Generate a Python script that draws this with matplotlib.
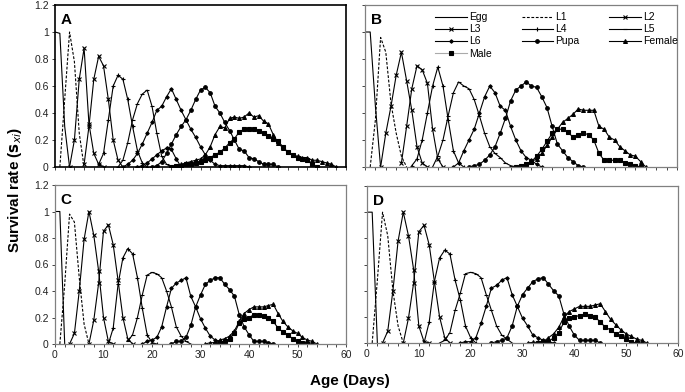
import numpy as np
import matplotlib
matplotlib.use("Agg")
import matplotlib.pyplot as plt
from matplotlib.lines import Line2D
from matplotlib.ticker import MultipleLocator

plt.rcParams["font.family"] = ["Liberation Sans", "DejaVu Sans"]

stages = ["Egg", "L1", "L2", "L3", "L4", "L5", "L6", "Pupa", "Female", "Male"]

## PANEL A (start day, daily survival values) ##
a_egg = (0, [1.0, 0.99, 0.3, 0.0])
a_l1 = (1, [0.0, 0.5, 1.0, 0.78, 0.25, 0.0])
a_l2 = (3, [0.0, 0.2, 0.65, 0.88, 0.32, 0.1, 0.02, 0.0])
a_l3 = (6, [0.02, 0.3, 0.65, 0.82, 0.75, 0.5, 0.2, 0.05, 0.0])
a_l4 = (9, [0.02, 0.1, 0.35, 0.6, 0.68, 0.65, 0.5, 0.3, 0.12, 0.03, 0.0])
a_l5 = (13, [0.0, 0.05, 0.18, 0.35, 0.47, 0.54, 0.57, 0.45, 0.25, 0.08, 0.02, 0.0])
a_l6 = (14, [0.0, 0.02, 0.05, 0.1, 0.17, 0.25, 0.33, 0.42, 0.45, 0.52, 0.58, 0.5,
             0.42, 0.35, 0.28, 0.22, 0.15, 0.09, 0.05, 0.02, 0.01, 0.01, 0.01,
             0.01, 0.01, 0.01, 0.0])
a_l6b = (17, [0.0, 0.01, 0.03, 0.06, 0.09, 0.12, 0.14, 0.13, 0.06, 0.0])
a_pupa = (20, [0.0, 0.01, 0.04, 0.1, 0.17, 0.24, 0.3, 0.35, 0.42, 0.5, 0.57, 0.59,
               0.55, 0.45, 0.4, 0.33, 0.27, 0.2, 0.13, 0.12, 0.07, 0.06, 0.04,
               0.02, 0.02, 0.02, 0.0])
a_female = (24, [0.0, 0.01, 0.02, 0.03, 0.04, 0.05, 0.06, 0.09, 0.15, 0.24, 0.3,
                 0.29, 0.36, 0.37, 0.36, 0.37, 0.4, 0.37, 0.38, 0.34, 0.32, 0.24,
                 0.18, 0.14, 0.11, 0.09, 0.08, 0.07, 0.07, 0.05, 0.05, 0.04, 0.03,
                 0.02, 0.0])
a_male = (24, [0.0, 0.01, 0.01, 0.02, 0.02, 0.03, 0.04, 0.05, 0.07, 0.09, 0.11,
               0.14, 0.18, 0.21, 0.26, 0.28, 0.28, 0.28, 0.27, 0.25, 0.23, 0.21,
               0.19, 0.15, 0.11, 0.09, 0.07, 0.06, 0.05, 0.02, 0.0])

## PANEL B ##
b_egg = (0, [1.0, 1.0, 0.45, 0.0])
b_l1 = (1, [0.0, 0.35, 0.96, 0.85, 0.47, 0.25, 0.08, 0.0])
b_l2 = (3, [0.0, 0.25, 0.45, 0.68, 0.85, 0.64, 0.42, 0.15, 0.03, 0.0])
b_l3 = (7, [0.03, 0.3, 0.58, 0.75, 0.72, 0.62, 0.28, 0.06, 0.0])
b_l4 = (9, [0.01, 0.06, 0.2, 0.4, 0.6, 0.74, 0.6, 0.35, 0.12, 0.03, 0.0])
b_l5 = (13, [0.0, 0.08, 0.2, 0.38, 0.55, 0.63, 0.6, 0.58, 0.5, 0.38, 0.25, 0.15,
             0.1, 0.07, 0.03, 0.01, 0.0])
b_l6 = (17, [0.0, 0.03, 0.12, 0.2, 0.28, 0.4, 0.52, 0.6, 0.55, 0.45, 0.42, 0.3,
             0.2, 0.12, 0.07, 0.05, 0.02, 0.0])
b_pupa = (20, [0.0, 0.01, 0.02, 0.05, 0.09, 0.15, 0.25, 0.36, 0.49, 0.57, 0.6,
               0.63, 0.6, 0.59, 0.52, 0.44, 0.3, 0.17, 0.12, 0.07, 0.04, 0.01, 0.0])
b_female = (29, [0.0, 0.01, 0.02, 0.04, 0.06, 0.1, 0.16, 0.22, 0.28, 0.33, 0.36,
                 0.39, 0.43, 0.42, 0.42, 0.42, 0.3, 0.28, 0.22, 0.2, 0.15, 0.12,
                 0.09, 0.08, 0.04, 0.0])
b_male = (29, [0.0, 0.01, 0.02, 0.04, 0.08, 0.13, 0.19, 0.25, 0.28, 0.28, 0.26,
               0.22, 0.24, 0.25, 0.24, 0.2, 0.1, 0.05, 0.05, 0.05, 0.05, 0.03,
               0.02, 0.01, 0.0])

## PANEL C ##
c_egg = (0, [1.0, 1.0, 0.0])
c_l1 = (1, [0.0, 0.45, 0.98, 0.92, 0.5, 0.15, 0.0])
c_l2 = (3, [0.0, 0.08, 0.4, 0.79, 1.0, 0.82, 0.55, 0.2, 0.02, 0.0])
c_l3 = (7, [0.0, 0.18, 0.46, 0.85, 0.9, 0.75, 0.48, 0.2, 0.04, 0.0])
c_l4 = (11, [0.0, 0.12, 0.45, 0.65, 0.72, 0.68, 0.5, 0.27, 0.07, 0.01, 0.0])
c_l5 = (15, [0.02, 0.07, 0.2, 0.37, 0.52, 0.54, 0.53, 0.5, 0.4, 0.28, 0.13, 0.06,
             0.02, 0.0])
c_l6 = (18, [0.0, 0.02, 0.03, 0.05, 0.13, 0.28, 0.42, 0.46, 0.48, 0.5, 0.36, 0.28,
             0.19, 0.12, 0.06, 0.03, 0.02, 0.0])
c_pupa = (24, [0.0, 0.02, 0.02, 0.05, 0.14, 0.28, 0.37, 0.45, 0.48, 0.5, 0.5,
               0.45, 0.41, 0.36, 0.22, 0.13, 0.07, 0.02, 0.02, 0.02, 0.01, 0.0])
c_female = (31, [0.0, 0.01, 0.01, 0.03, 0.04, 0.06, 0.1, 0.17, 0.23, 0.26, 0.28,
                 0.28, 0.28, 0.29, 0.3, 0.23, 0.17, 0.13, 0.1, 0.08, 0.05, 0.03,
                 0.02, 0.0])
c_male = (33, [0.0, 0.005, 0.02, 0.04, 0.08, 0.16, 0.19, 0.2, 0.22, 0.22, 0.21,
               0.2, 0.17, 0.12, 0.09, 0.07, 0.04, 0.02, 0.01, 0.0])

## PANEL D ##
d_egg = (0, [1.0, 1.0, 0.0])
d_l1 = (1, [0.0, 0.48, 1.0, 0.82, 0.4, 0.13, 0.0])
d_l2 = (3, [0.0, 0.09, 0.4, 0.78, 1.0, 0.82, 0.56, 0.13, 0.01, 0.0])
d_l3 = (7, [0.0, 0.19, 0.46, 0.85, 0.9, 0.75, 0.47, 0.2, 0.04, 0.0])
d_l4 = (11, [0.0, 0.16, 0.47, 0.65, 0.71, 0.68, 0.48, 0.33, 0.13, 0.04, 0.0])
d_l5 = (14, [0.0, 0.02, 0.08, 0.25, 0.38, 0.53, 0.54, 0.53, 0.5, 0.37, 0.25, 0.13,
             0.06, 0.03, 0.0])
d_l6 = (18, [0.0, 0.01, 0.01, 0.04, 0.15, 0.28, 0.42, 0.44, 0.48, 0.5, 0.37, 0.28,
             0.19, 0.13, 0.06, 0.04, 0.02, 0.01, 0.0])
d_pupa = (24, [0.0, 0.01, 0.02, 0.04, 0.13, 0.28, 0.37, 0.42, 0.47, 0.49, 0.5,
               0.45, 0.4, 0.36, 0.22, 0.13, 0.06, 0.02, 0.02, 0.02, 0.02, 0.0])
d_female = (31, [0.0, 0.005, 0.005, 0.01, 0.04, 0.07, 0.12, 0.2, 0.24, 0.26, 0.28,
                 0.28, 0.28, 0.29, 0.3, 0.24, 0.18, 0.14, 0.1, 0.07, 0.05, 0.03,
                 0.02, 0.0])
d_male = (33, [0.0, 0.005, 0.01, 0.04, 0.08, 0.16, 0.19, 0.2, 0.21, 0.22, 0.21,
               0.2, 0.16, 0.12, 0.1, 0.07, 0.05, 0.03, 0.01, 0.0])

panels = {
    "A": [a_egg, a_l1, a_l2, a_l3, a_l4, a_l5, a_l6, a_pupa, a_female, a_male],
    "B": [b_egg, b_l1, b_l2, b_l3, b_l4, b_l5, b_l6, b_pupa, b_female, b_male],
    "C": [c_egg, c_l1, c_l2, c_l3, c_l4, c_l5, c_l6, c_pupa, c_female, c_male],
    "D": [d_egg, d_l1, d_l2, d_l3, d_l4, d_l5, d_l6, d_pupa, d_female, d_male],
}

# line style per stage: (linestyle, marker, markersize)
styles = {
    "Egg": ("-", None, 0),
    "L1": ((0, (2.5, 1.5)), None, 0),
    "L2": ("-", "x", 3),
    "L3": ("-", "x", 3),
    "L4": ("-", "+", 3.5),
    "L5": ("-", "_", 3.5),
    "L6": ("-", "D", 1.8),
    "Pupa": ("-", "o", 2.6),
    "Female": ("-", "^", 2.8),
    "Male": ("-", "s", 2.6),
}

W, H = 685, 392
fig = plt.figure(figsize=(W / 100, H / 100), dpi=100)

boxes = {
    "A": (55, 5, 346, 167),
    "B": (365, 5, 677, 167),
    "C": (55, 185, 346, 344),
    "D": (367, 186, 678, 343),
}


def draw(ax, series, extra=None):
    for name, (start, vals) in zip(stages, series):
        ls, mk, ms = styles[name]
        x = np.arange(start, start + len(vals))
        ax.plot(x, vals, color="black", linestyle=ls, linewidth=0.8,
                marker=mk, markersize=ms, markeredgewidth=0.8)
    if extra is not None:
        start, vals = extra
        x = np.arange(start, start + len(vals))
        ax.plot(x, vals, color="black", linewidth=0.8, marker="D",
                markersize=1.8)


axes = {}
for key, (l, t, r, b) in boxes.items():
    ax = fig.add_axes([l / W, 1 - b / H, (r - l) / W, (b - t) / H])
    axes[key] = ax
    draw(ax, panels[key], a_l6b if key == "A" else None)
    ax.set_xlim(0, 60)
    ax.set_ylim(0, 1.2)
    ax.xaxis.set_major_locator(MultipleLocator(10))
    ax.xaxis.set_minor_locator(MultipleLocator(2))
    ax.set_yticks(np.arange(0, 1.21, 0.2))
    ax.set_yticklabels(["0", "0.2", "0.4", "0.6", "0.8", "1", "1.2"])
    ax.tick_params(which="both", direction="out", length=2.5, width=0.7,
                   labelsize=7.5, colors="#444444", labelcolor="#222222", pad=2)
    if key in ("A", "B"):
        ax.tick_params(axis="x", labelbottom=False)
    if key in ("B", "D"):
        ax.tick_params(axis="y", labelleft=False)
    spine_col = "black" if key == "A" else "#808080"
    for sp in ax.spines.values():
        sp.set_color(spine_col)
        sp.set_linewidth(1.2 if key == "A" else 0.9)
    ax.text(0.02, 0.95, key, transform=ax.transAxes, fontsize=11,
            fontweight="bold", va="top", ha="left")

# legend in panel B, three columns in row order
order = ["Egg", "L3", "L6", "Male", "L1", "L4", "Pupa", "L2", "L5", "Female"]
handles = []
for name in order:
    ls, mk, ms = styles[name]
    col = "#aaaaaa" if name == "Male" else "black"
    handles.append(Line2D([0], [0], color=col, linestyle=ls, linewidth=0.8,
                          marker=mk, markersize=ms, markerfacecolor="black",
                          markeredgecolor="black", markeredgewidth=0.8))
axes["B"].legend(handles, order, ncol=3, loc="upper right",
                 bbox_to_anchor=(1.025, 1.0), frameon=False, fontsize=7.5,
                 handlelength=3.0, handletextpad=0.2, columnspacing=2.9,
                 labelspacing=0.2, borderaxespad=0.3)

fig.text(15 / W, 1 - 190 / H, r"Survival rate ($\mathbf{s}_{xi}$)", rotation=90,
         fontsize=11, fontweight="bold", ha="center", va="center")
fig.text(350 / W, 1 - 381 / H, "Age (Days)", fontsize=11, fontweight="bold",
         ha="center", va="center")

fig.savefig("out.png", dpi=100)
